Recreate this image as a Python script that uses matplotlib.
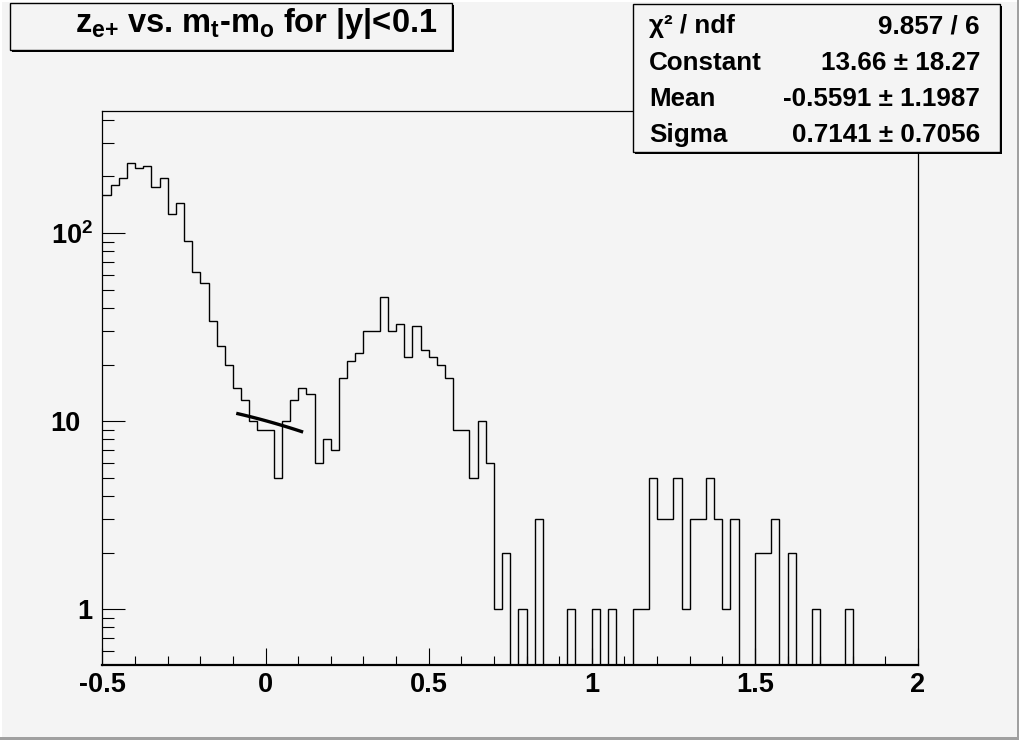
import numpy as np
import matplotlib
matplotlib.use("Agg")
import matplotlib.pyplot as plt
from matplotlib.patches import Rectangle
from matplotlib.transforms import blended_transform_factory
from matplotlib.ticker import FixedLocator, FixedFormatter, MultipleLocator, LogLocator, NullFormatter

plt.rcParams['font.family'] = ['Liberation Sans', 'DejaVu Sans']
plt.rcParams['font.weight'] = 'bold'
plt.rcParams['mathtext.fontset'] = 'custom'
plt.rcParams['mathtext.rm'] = 'Liberation Sans:bold'
plt.rcParams['mathtext.it'] = 'Liberation Sans:bold'
plt.rcParams['mathtext.bf'] = 'Liberation Sans:bold'

# ---- data ----
x_min, x_max, n_bins = -0.5, 2.0, 100
counts = [159, 180, 196, 237, 222, 227, 176, 196, 127, 144,
          91, 62, 54, 34, 25, 20, 15, 13, 10, 9,
          9, 5, 10, 13, 15, 14, 6, 8, 7, 17,
          21, 23, 30, 30, 46, 30, 33, 22, 32, 24,
          22, 20, 17, 9, 9, 5, 10, 6, 1, 2,
          0, 1, 0, 3, 0, 0, 0, 1, 0, 0,
          1, 0, 1, 0, 0, 1, 1, 5, 3, 3,
          5, 1, 3, 3, 5, 3, 1, 3, 0, 0,
          2, 2, 3, 0, 2, 0, 0, 1, 0, 0,
          0, 1, 0, 0, 0, 0, 0, 0, 0, 0]
fit_const, fit_mean, fit_sigma = 13.66, -0.5591, 0.7141
fit_range = (-0.09, 0.115)
title_text = r"$z_{e{+}}$ vs. $m_t$-$m_o$ for |y|<0.1"
stat_names = ["χ² / ndf", "Constant", "Mean", "Sigma"]
stat_values = ["9.857 / 6", "13.66 ± 18.27", "-0.5591 ± 1.1987", "0.7141 ± 0.7056"]
x_ticks = [-0.5, 0, 0.5, 1, 1.5, 2]
x_tick_labels = ["-0.5", "0", "0.5", "1", "1.5", "2"]
y_ticks = [1, 10, 100]
y_tick_labels = ["1", "10", "$10^{2}$"]
y_lim = (0.505, 446)

W, H = 1020, 740
bg = '#f4f4f4'
fig = plt.figure(figsize=(W / 100, H / 100), dpi=100, facecolor=bg)

ax = fig.add_axes([102.5 / W, 75 / H, 815.5 / W, 554 / H], facecolor=bg)
edges = np.linspace(x_min, x_max, n_bins + 1)
vals = np.array(counts, dtype=float)
draw_vals = np.where(vals > 0, vals, 1e-3)
ax.stairs(draw_vals, edges, baseline=None, color='black', linewidth=1.0)

xf = np.linspace(fit_range[0], fit_range[1], 100)
yf = fit_const * np.exp(-0.5 * ((xf - fit_mean) / fit_sigma) ** 2)
ax.plot(xf, yf, color='black', linewidth=2.4, solid_capstyle='butt')

ax.set_yscale('log')
ax.set_xlim(x_min, x_max)
ax.set_ylim(*y_lim)

ax.xaxis.set_major_locator(FixedLocator(x_ticks))
ax.xaxis.set_major_formatter(FixedFormatter(x_tick_labels))
ax.xaxis.set_minor_locator(MultipleLocator(0.1))
ax.yaxis.set_major_locator(FixedLocator(y_ticks))
ax.yaxis.set_major_formatter(NullFormatter())
ax.yaxis.set_minor_locator(LogLocator(base=10, subs=np.arange(2, 10), numticks=50))
ax.yaxis.set_minor_formatter(NullFormatter())

ax.tick_params(axis='x', which='major', direction='in', length=12.5, width=0.8, pad=5, labelsize=19.5)
ax.tick_params(axis='x', which='minor', direction='in', length=6.5, width=0.8)
ax.tick_params(axis='y', which='major', direction='in', length=16.5, width=0.8)
ax.tick_params(axis='y', which='minor', direction='in', length=8.5, width=0.8)
for lab in ax.get_xticklabels():
    lab.set_fontweight('bold')

# y tick labels placed like ROOT (the "10" parts aligned)
ytr = blended_transform_factory(fig.transFigure, ax.transData)
y_label_right_px = [92, 81, 93]
for v, lab, xr in zip(y_ticks, y_tick_labels, y_label_right_px):
    ax.text(xr / W, v, lab, transform=ytr, ha='right', va='center_baseline',
            fontsize=19.5, fontweight='bold', clip_on=False)

for s in ['left', 'top', 'right']:
    ax.spines[s].set_linewidth(0.9)
ax.spines['bottom'].set_linewidth(1.6)


def px_rect(x0, y0, x1, y1, **kw):
    # pixel coords from top-left
    return Rectangle((x0 / W, 1 - y1 / H), (x1 - x0) / W, (y1 - y0) / H,
                     transform=fig.transFigure, **kw)


# title box
fig.patches.append(px_rect(12, 5.5, 454, 51.5, facecolor='black', edgecolor='none', zorder=5))
fig.patches.append(px_rect(10, 3.5, 452, 49.5, facecolor=bg, edgecolor='black', linewidth=1.0, zorder=6))
fig.text(437 / W, 1 - 32 / H, title_text, ha='right', va='baseline', fontsize=23.5,
         fontweight='bold', zorder=7)

# stats box
fig.patches.append(px_rect(635, 5.5, 1002, 154, facecolor='black', edgecolor='none', zorder=5))
fig.patches.append(px_rect(633, 3.5, 1000, 152, facecolor=bg, edgecolor='black', linewidth=1.0, zorder=6))
baselines = [33, 70, 106.5, 142]
for name, val, b in zip(stat_names, stat_values, baselines):
    fig.text(649 / W, 1 - b / H, name, ha='left', va='baseline', fontsize=18.7, fontweight='bold', zorder=7)
    fig.text(980 / W, 1 - b / H, val, ha='right', va='baseline', fontsize=18.7, fontweight='bold', zorder=7)

# canvas border (raised look)
fig.patches.append(px_rect(0, 0, W, 2, facecolor='white', edgecolor='none', zorder=1))
fig.patches.append(px_rect(0, 0, 2, H, facecolor='white', edgecolor='none', zorder=1))
fig.patches.append(px_rect(W - 3, 0, W, H, facecolor='#a0a0a0', edgecolor='none', zorder=1))
fig.patches.append(px_rect(0, H - 3, W, H, facecolor='#a0a0a0', edgecolor='none', zorder=1))

fig.savefig('out.png', dpi=100, facecolor=bg)
